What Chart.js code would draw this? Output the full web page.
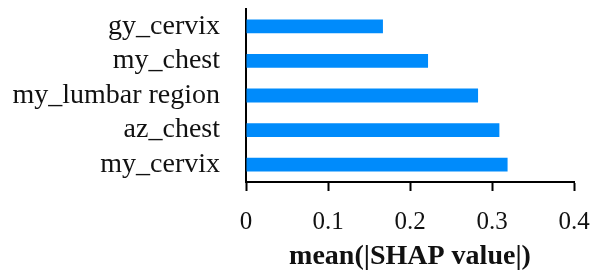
<!DOCTYPE html>
<html>
<head>
<meta charset="utf-8">
<script src="https://cdn.jsdelivr.net/npm/chart.js@4"></script>
<style>
  html, body { margin: 0; padding: 0; background: #fff; }
  #wrap { width: 601px; height: 276px; }
</style>
</head>
<body>
<div id="wrap"><canvas id="shapChart" width="601" height="276"></canvas></div>
<script>
// features, top to bottom
const features = ['gy_cervix', 'my_chest', 'my_lumbar region', 'az_chest', 'my_cervix'];
const meanShap = [0.167, 0.222, 0.283, 0.309, 0.319];
const xTicks = [0, 0.1, 0.2, 0.3, 0.4];

const serif = '"Liberation Serif", "Times New Roman", serif';

const ctx = document.getElementById('shapChart').getContext('2d');
new Chart(ctx, {
    type: 'bar',
    data: {
        labels: features,
        datasets: [{
            data: meanShap,
            backgroundColor: '#008bfb',
            borderWidth: 0,
            barPercentage: 0.8,
            categoryPercentage: 0.5
        }]
    },
    options: {
        indexAxis: 'y',
        responsive: false,
        animation: false,
        layout: { padding: { top: 9, right: 27, bottom: 0, left: 0 } },
        plugins: {
            legend: { display: false },
            tooltip: { enabled: false }
        },
        scales: {
            x: {
                min: 0,
                max: 0.4,
                afterBuildTicks: (scale) => {
                    scale.ticks = xTicks.map(v => ({ value: v }));
                },
                afterFit: (scale) => {
                    scale.height = 94;
                    scale.paddingLeft = 0;
                    scale.paddingRight = 0;
                },
                border: { display: true, color: '#000', width: 2 },
                grid: {
                    drawOnChartArea: false,
                    drawTicks: true,
                    tickLength: 9,
                    tickWidth: 2,
                    tickColor: '#000'
                },
                ticks: {
                    color: '#111',
                    padding: 16,
                    maxRotation: 0,
                    autoSkip: false,
                    font: { family: serif, size: 25 },
                    callback: (v) => String(v)
                },
                title: {
                    display: true,
                    text: 'mean(|SHAP value|)',
                    color: '#111',
                    padding: { top: 0, bottom: 2 },
                    font: { family: serif, size: 28, weight: 'bold' }
                }
            },
            y: {
                afterFit: (scale) => {
                    scale.width = 246;
                    scale.paddingTop = 0;
                    scale.paddingBottom = 0;
                },
                border: { display: true, color: '#000', width: 2 },
                grid: { display: false, drawTicks: false },
                ticks: {
                    color: '#111',
                    padding: 26,
                    autoSkip: false,
                    font: { family: serif, size: 28 }
                }
            }
        }
    }
});
</script>
</body>
</html>
